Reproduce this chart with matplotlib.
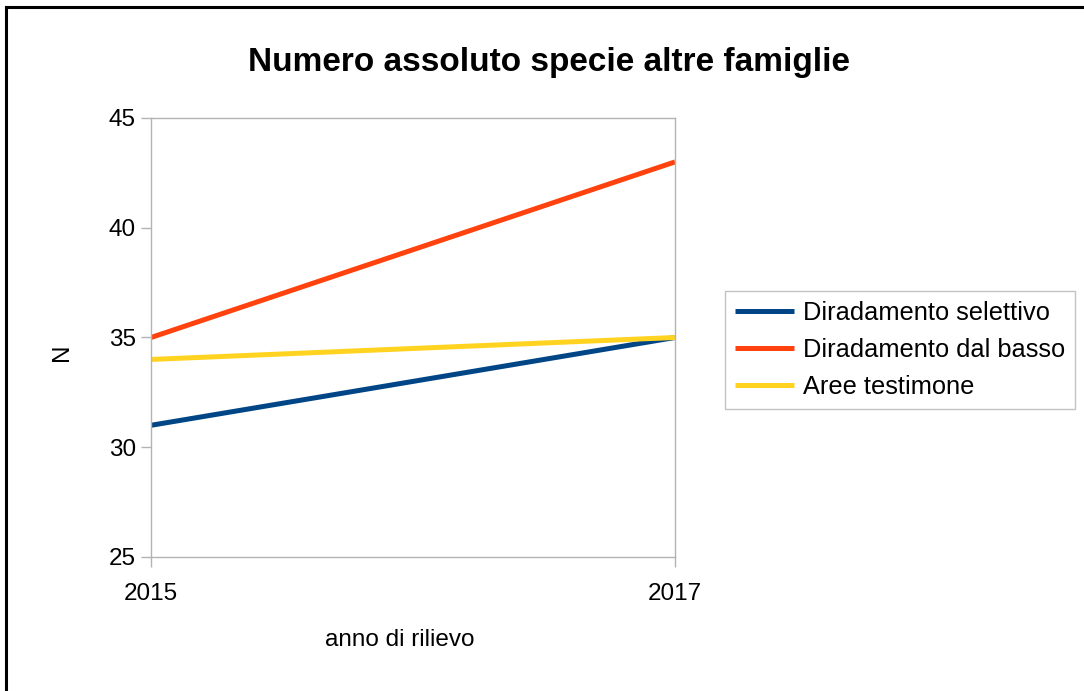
import matplotlib
matplotlib.use('Agg')

import matplotlib.pyplot as plt
from matplotlib.lines import Line2D

plt.rcParams['font.family'] = ['Liberation Sans', 'DejaVu Sans']

years = [2015, 2017]
series_names = ["Diradamento selettivo", "Diradamento dal basso", "Aree testimone"]
selettivo = [31, 35]
dal_basso = [35, 43]
testimone = [34, 35]
colors = ['#004586', '#ff420e', '#ffd320']

fig = plt.figure(figsize=(10.84, 6.91), dpi=100)
ax = fig.add_axes([151 / 1084, 1 - 557 / 691, (675 - 151) / 1084, (557 - 118) / 691])

for vals, name, c in zip([selettivo, dal_basso, testimone], series_names, colors):
    ax.plot(years, vals, color=c, lw=3.6, label=name, solid_capstyle='butt')

ax.set_xlim(years[0], years[-1])
ax.set_ylim(25, 45)
ax.set_yticks([25, 30, 35, 40, 45])
ax.set_xticks(years)
for s in ax.spines.values():
    s.set_color('#b3b3b3')
    s.set_linewidth(1)
ax.tick_params(axis='both', colors='#b3b3b3', length=7, width=1, labelsize=17.5,
               labelcolor='black')
ax.tick_params(axis='x', pad=12)
ax.tick_params(axis='y', pad=4)

ax.set_xlabel("anno di rilievo", fontsize=17.5, va='center')
ax.xaxis.set_label_coords((400 - 151) / 524, -(640 - 557) / 439)
ax.set_ylabel("N", fontsize=17.5, va='center')
ax.yaxis.set_label_coords(-(151 - 62) / 524, (557 - 352) / 439)
fig.suptitle("Numero assoluto specie altre famiglie", fontsize=24, fontweight='bold',
             x=549 / 1084, y=1 - 62 / 691, va='center')

leg = ax.legend(loc='center left', bbox_to_anchor=(725 / 1084, 1 - 350 / 691),
                bbox_transform=fig.transFigure, fontsize=18.3, frameon=True,
                fancybox=False, edgecolor='#b3b3b3', handlelength=2.3,
                handletextpad=0.35, borderpad=0.4, labelspacing=0.5,
                borderaxespad=0)
leg.get_frame().set_linewidth(1)

# outer frame (top and left edges visible)
fig.add_artist(Line2D([6 / 1084, 6 / 1084], [0, 1 - 7 / 691], color='black', lw=2.2,
                      transform=fig.transFigure))
fig.add_artist(Line2D([6 / 1084, 1], [1 - 7 / 691, 1 - 7 / 691], color='black', lw=2.2,
                      transform=fig.transFigure))

plt.savefig('out.png', dpi=100)
